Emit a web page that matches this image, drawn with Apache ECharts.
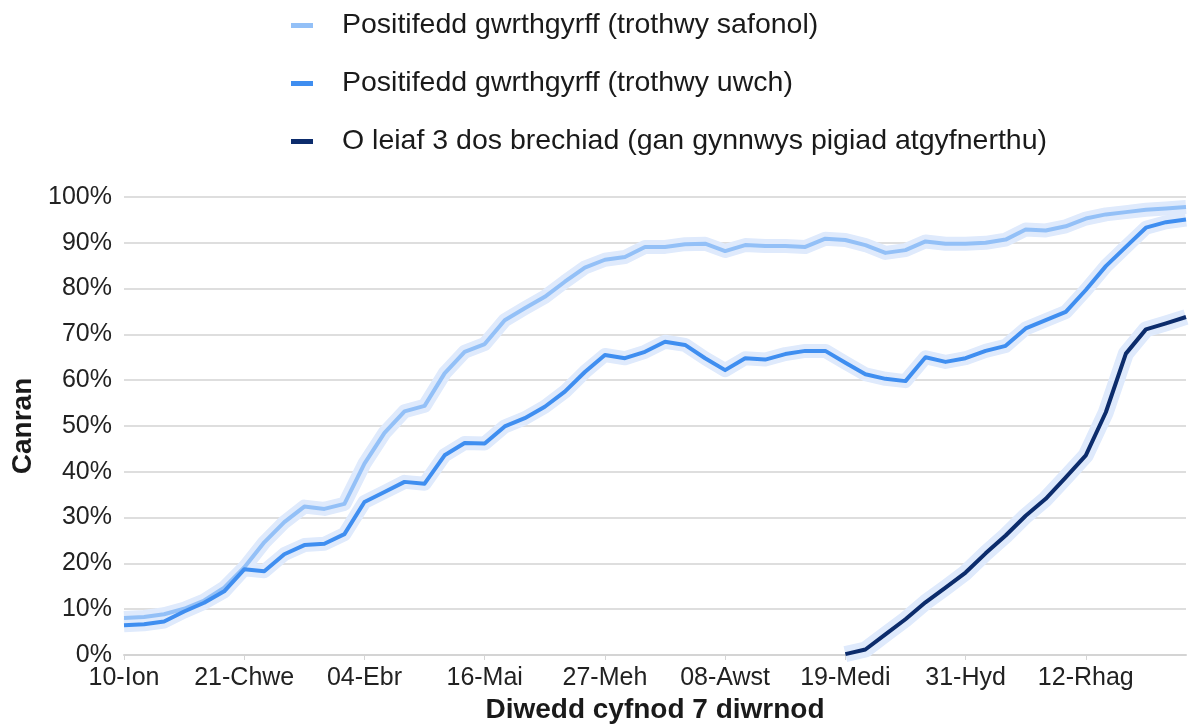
<!DOCTYPE html>
<html>
<head>
<meta charset="utf-8">
<title>Positifedd gwrthgyrff</title>
<script src="https://cdn.jsdelivr.net/npm/echarts@6/dist/echarts.min.js"></script>
<style>
  html, body { margin: 0; padding: 0; background: #fff; }
  #chart { width: 1190px; height: 724px; }
</style>
</head>
<body>
<div id="chart"></div>
<script>
// wythnosau (diwedd cyfnod 7 diwrnod)
var weeks = [
  '10-Ion', '17-Ion', '24-Ion', '31-Ion', '07-Chwe', '14-Chwe', '21-Chwe', '28-Chwe',
  '07-Maw', '14-Maw', '21-Maw', '28-Maw', '04-Ebr', '11-Ebr', '18-Ebr', '25-Ebr',
  '02-Mai', '09-Mai', '16-Mai', '23-Mai', '30-Mai', '06-Meh', '13-Meh', '20-Meh',
  '27-Meh', '04-Gorff', '11-Gorff', '18-Gorff', '25-Gorff', '01-Awst', '08-Awst', '15-Awst',
  '22-Awst', '29-Awst', '05-Medi', '12-Medi', '19-Medi', '26-Medi', '03-Hyd', '10-Hyd',
  '17-Hyd', '24-Hyd', '31-Hyd', '07-Tach', '14-Tach', '21-Tach', '28-Tach', '05-Rhag',
  '12-Rhag', '19-Rhag', '26-Rhag', '02-Ion', '09-Ion', '16-Ion'
]

var safonol = [
  8.1, 8.3, 8.9, 10.1, 11.9, 14.7, 19.1, 24.6, 29.0, 32.4, 31.9, 33.0, 41.8, 48.5,
  53.2, 54.4, 61.5, 66.2, 67.9, 73.1, 75.7, 78.2, 81.5, 84.6, 86.3, 86.9, 89.1, 89.1,
  89.7, 89.8, 88.2, 89.5, 89.3, 89.3, 89.1, 90.9, 90.6, 89.5, 87.8, 88.4, 90.3, 89.8,
  89.8, 90.0, 90.7, 92.9, 92.7, 93.6, 95.3, 96.2, 96.7, 97.2, 97.5, 97.8
]

var uwch = [
  6.5, 6.7, 7.3, 9.5, 11.4, 13.9, 18.7, 18.3, 22.0, 24.0, 24.3, 26.4, 33.4, 35.6,
  37.8, 37.4, 43.6, 46.3, 46.2, 49.9, 51.7, 54.2, 57.5, 61.8, 65.5, 64.8, 66.2, 68.4,
  67.7, 64.8, 62.2, 64.8, 64.5, 65.7, 66.4, 66.4, 63.8, 61.3, 60.3, 59.8, 65.0, 64.0,
  64.8, 66.4, 67.5, 71.3, 73.1, 74.9, 79.7, 84.9, 89.1, 93.3, 94.5, 95.1
]

var brechiad = [
  null, null, null, null, null, null, null, null, null, null, null, null, null, null,
  null, null, null, null, null, null, null, null, null, null, null, null, null, null,
  null, null, null, null, null, null, null, null, 0.2, 1.2, 4.5, 7.8, 11.5, 14.7,
  18.0, 22.2, 26.1, 30.4, 34.1, 38.8, 43.6, 53.0, 65.8, 71.1, 72.4, 73.8
]

var names = [
  'Positifedd gwrthgyrff (trothwy safonol)',
  'Positifedd gwrthgyrff (trothwy uwch)',
  'O leiaf 3 dos brechiad (gan gynnwys pigiad atgyfnerthu)'
]
var colors = ['#93c0f7', '#3f8ef0', '#0c2c6c']
var font = 'Liberation Sans, Arial, Helvetica, sans-serif'

var chart = echarts.init(document.getElementById('chart'))

// lighter wide stroke under each line for the confidence band
function band (data, width) {
  return {
    type: 'line',
    data: data,
    symbol: 'none',
    silent: true,
    z: 1,
    lineStyle: { color: '#dfeafc', width: width, cap: 'butt', join: 'round' }
  }
}

function line (name, data, color) {
  return {
    name: name,
    type: 'line',
    data: data,
    symbol: 'none',
    z: 3,
    lineStyle: { color: color, width: 4, join: 'round' },
    itemStyle: { color: color }
  }
}

var option = {
  animation: false,
  textStyle: { fontFamily: font },
  legend: {
    data: names,
    orient: 'vertical',
    left: 286,
    top: 5,
    itemGap: 27,
    icon: 'rect',
    itemWidth: 22,
    itemHeight: 5,
    textStyle: { fontSize: 28.5, color: '#1a1a1a', lineHeight: 31, padding: [0, 0, 0, 24] }
  },
  grid: { left: 124, right: 4, top: 197, bottom: 69, containLabel: false, outerBoundsMode: 'none' },
  xAxis: {
    type: 'category',
    data: weeks,
    boundaryGap: false,
    name: 'Diwedd cyfnod 7 diwrnod',
    nameLocation: 'middle',
    nameGap: 38,
    nameTextStyle: { fontSize: 28, fontWeight: 'bold', color: '#1a1a1a' },
    axisLine: { lineStyle: { color: '#d4d4d4', width: 2 } },
    axisTick: { interval: 5, length: 5, lineStyle: { color: '#d4d4d4', width: 1 } },
    axisLabel: { interval: 5, fontSize: 25, color: '#222', margin: 11 },
    splitLine: { show: false }
  },
  yAxis: {
    type: 'value',
    min: 0,
    max: 100,
    interval: 10,
    name: 'Canran',
    nameLocation: 'middle',
    nameGap: 72,
    nameTextStyle: { fontSize: 28, fontWeight: 'bold', color: '#1a1a1a' },
    axisLabel: { formatter: '{value}%', fontSize: 25, color: '#222', margin: 12 },
    axisLine: { show: false },
    axisTick: { show: false },
    splitLine: { lineStyle: { color: '#dedede', width: 2 } }
  },
  series: [
    band(safonol, 14),
    band(uwch, 14),
    band(brechiad, 16),
    line(names[0], safonol, colors[0]),
    line(names[1], uwch, colors[1]),
    line(names[2], brechiad, colors[2])
  ]
}

chart.setOption(option)
</script>
</body>
</html>
